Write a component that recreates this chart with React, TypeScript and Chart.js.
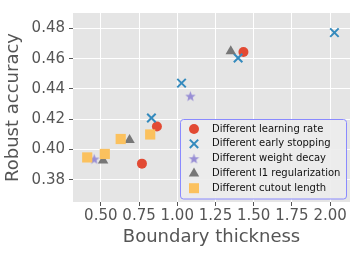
import React, { useEffect, useRef } from "react";
import { Chart, registerables } from "chart.js";

Chart.register(...registerables);

const seriesNames = [
  "Different learning rate",
  "Different early stopping",
  "Different weight decay",
  "Different l1 regularization",
  "Different cutout length",
];
const seriesColors = ["#E24A33", "#348ABD", "#988ED5", "#777777", "#FBC15E"];

const lrX = [0.769, 0.867, 1.433];
const lrY = [0.3906, 0.4152, 0.4645];
const esX = [0.831, 1.028, 1.398, 2.028];
const esY = [0.4208, 0.4439, 0.4605, 0.4773];
const wdX = [0.457, 1.086];
const wdY = [0.3937, 0.4353];
const l1X = [0.515, 0.688, 1.35];
const l1Y = [0.3927, 0.4063, 0.465];
const coX = [0.411, 0.526, 0.63, 0.823];
const coY = [0.3947, 0.397, 0.4069, 0.4099];

const xTicks = [0.5, 0.75, 1.0, 1.25, 1.5, 1.75, 2.0];
const yTicks = [0.38, 0.4, 0.42, 0.44, 0.46, 0.48];

const FONT = "'DejaVu Sans', sans-serif";

function makeStar(color: string, outer: number, inner: number) {
  const s = Math.ceil(outer * 2 + 2);
  const c = document.createElement("canvas");
  c.width = s;
  c.height = s;
  const ctx = c.getContext("2d")!;
  ctx.fillStyle = color;
  ctx.beginPath();
  for (let i = 0; i < 10; i++) {
    const r = i % 2 === 0 ? outer : inner;
    const a = -Math.PI / 2 + (i * Math.PI) / 5;
    const px = s / 2 + r * Math.cos(a);
    const py = s / 2 + r * Math.sin(a) + 0.5;
    if (i === 0) ctx.moveTo(px, py);
    else ctx.lineTo(px, py);
  }
  ctx.closePath();
  ctx.fill();
  return c;
}

const zip = (xs: number[], ys: number[]) => xs.map((x, i) => ({ x, y: ys[i] }));

export default function App() {
  const ref = useRef<HTMLCanvasElement>(null);
  useEffect(() => {
    const star = makeStar(seriesColors[2], 5.5, 2.3);
    const styles: any[] = ["circle", "crossRot", star, "triangle", "rect"];
    const radii = [5, 6, 5.5, 6, 7.2];
    const data = [zip(lrX, lrY), zip(esX, esY), zip(wdX, wdY), zip(l1X, l1Y), zip(coX, coY)];

    const bgFirst = {
      id: "bgFirst",
      beforeDraw(chart: any) {
        const { ctx, chartArea } = chart;
        ctx.save();
        ctx.fillStyle = "#E5E5E5";
        ctx.fillRect(chartArea.left, chartArea.top, chartArea.right - chartArea.left, chartArea.bottom - chartArea.top);
        ctx.restore();
      },
    };

    const legendPlugin = {
      id: "customLegend",
      afterDatasetsDraw(chart: any) {
        const { ctx } = chart;
        ctx.save();
        const x0 = 180.5, y0 = 119.5, w = 166, h = 79.5, r = 3;
        ctx.beginPath();
        ctx.moveTo(x0 + r, y0);
        ctx.lineTo(x0 + w - r, y0);
        ctx.arcTo(x0 + w, y0, x0 + w, y0 + r, r);
        ctx.lineTo(x0 + w, y0 + h - r);
        ctx.arcTo(x0 + w, y0 + h, x0 + w - r, y0 + h, r);
        ctx.lineTo(x0 + r, y0 + h);
        ctx.arcTo(x0, y0 + h, x0, y0 + h - r, r);
        ctx.lineTo(x0, y0 + r);
        ctx.arcTo(x0, y0, x0 + r, y0, r);
        ctx.closePath();
        ctx.fillStyle = "rgba(236,236,236,0.9)";
        ctx.fill();
        ctx.strokeStyle = "#8A8AFF";
        ctx.lineWidth = 1;
        ctx.stroke();
        ctx.font = `10px ${FONT}`;
        ctx.textBaseline = "middle";
        ctx.textAlign = "left";
        seriesNames.forEach((name, i) => {
          const cy = 129 + i * 14.8;
          const cx = 194;
          const c = seriesColors[i];
          ctx.fillStyle = c;
          ctx.strokeStyle = c;
          if (i === 0) {
            ctx.beginPath();
            ctx.arc(cx, cy, 5, 0, Math.PI * 2);
            ctx.fill();
          } else if (i === 1) {
            ctx.lineWidth = 2;
            ctx.beginPath();
            ctx.moveTo(cx - 4.2, cy - 4.2);
            ctx.lineTo(cx + 4.2, cy + 4.2);
            ctx.moveTo(cx + 4.2, cy - 4.2);
            ctx.lineTo(cx - 4.2, cy + 4.2);
            ctx.stroke();
          } else if (i === 2) {
            ctx.drawImage(star, cx - star.width / 2, cy - star.height / 2);
          } else if (i === 3) {
            ctx.beginPath();
            ctx.moveTo(cx, cy - 6);
            ctx.lineTo(cx + 5.2, cy + 3);
            ctx.lineTo(cx - 5.2, cy + 3);
            ctx.closePath();
            ctx.fill();
          } else {
            ctx.fillRect(cx - 5, cy - 5, 10, 10);
          }
          ctx.fillStyle = "#111111";
          ctx.fillText(name, 212, cy);
        });
        ctx.restore();
      },
    };

    const chart = new Chart(ref.current!, {
      type: "scatter",
      data: {
        datasets: data.map((d, i) => ({
          label: seriesNames[i],
          data: d,
          pointStyle: styles[i],
          pointRadius: radii[i],
          pointHoverRadius: radii[i],
          backgroundColor: seriesColors[i],
          borderColor: seriesColors[i],
          borderWidth: i === 1 ? 2 : 0,
          order: 4 - i,
        })),
      },
      options: {
        responsive: false,
        animation: false,
        devicePixelRatio: 1,
        events: [],
        layout: { padding: { left: 0, top: 8, right: 7, bottom: 0 } },
        plugins: { legend: { display: false }, tooltip: { enabled: false } },
        scales: {
          x: {
            type: "linear",
            min: 0.318,
            max: 2.13,
            afterBuildTicks: (s: any) => {
              s.ticks = xTicks.map((v) => ({ value: v }));
            },
            afterFit: (s: any) => {
              s.height = 52;
            },
            ticks: {
              callback: (v: any) => Number(v).toFixed(2),
              color: "#555555",
              font: { family: FONT, size: 15 },
              padding: 1,
              maxRotation: 0,
              autoSkip: false,
            },
            grid: { color: "#FFFFFF", lineWidth: 1, tickColor: "#555555", tickLength: 4, drawTicks: true },
            border: { display: false },
            title: {
              display: true,
              text: "Boundary thickness",
              color: "#555555",
              font: { family: FONT, size: 18 },
              padding: { top: 0, bottom: 6 },
            },
          },
          y: {
            type: "linear",
            min: 0.3652,
            max: 0.4903,
            afterBuildTicks: (s: any) => {
              s.ticks = yTicks.map((v) => ({ value: v }));
            },
            afterFit: (s: any) => {
              s.width = 73;
            },
            ticks: {
              callback: (v: any) => Number(v).toFixed(2),
              color: "#555555",
              font: { family: FONT, size: 15 },
              padding: 4,
              autoSkip: false,
            },
            grid: { color: "#FFFFFF", lineWidth: 1, tickColor: "#555555", tickLength: 4, drawTicks: true },
            border: { display: false },
            title: {
              display: true,
              text: "Robust accuracy",
              color: "#555555",
              font: { family: FONT, size: 18 },
              padding: { top: 3, bottom: 0 },
            },
          },
        },
      },
      plugins: [bgFirst, legendPlugin],
    } as any);
    return () => chart.destroy();
  }, []);
  return (
    <div style={{ position: "absolute", left: 0, top: 0, width: 358, height: 254, background: "#fff" }}>
      <canvas ref={ref} width={358} height={254} />
    </div>
  );
}
